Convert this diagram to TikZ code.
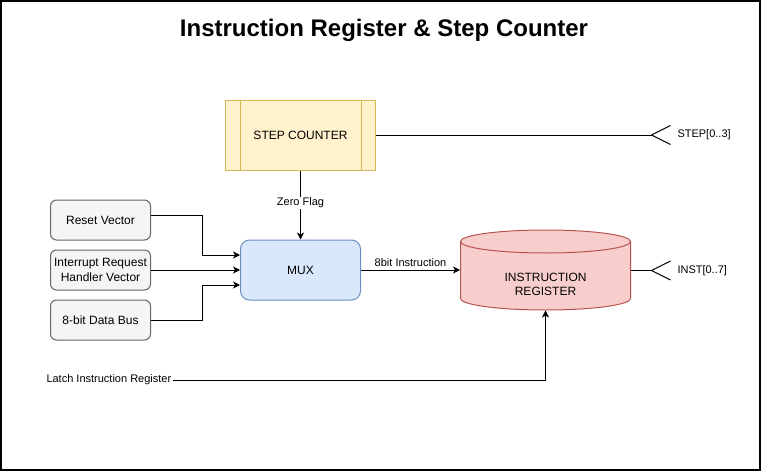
\documentclass[tikz,border=0pt]{standalone}
\usepackage{fontspec}
\setmainfont{Liberation Sans}
\usepackage{tikz}
\usetikzlibrary{arrows.meta}

\definecolor{scfill}{HTML}{FFF2CC}
\definecolor{scline}{HTML}{D6B656}
\definecolor{muxfill}{HTML}{DAE8FC}
\definecolor{muxline}{HTML}{6C8EBF}
\definecolor{irfill}{HTML}{F8CECC}
\definecolor{irline}{HTML}{B85450}
\definecolor{srcfill}{HTML}{F5F5F5}
\definecolor{srcline}{HTML}{666666}

\begin{document}
\begin{tikzpicture}[x=1pt,y=-1pt,line width=1pt,
  txt/.style={font=\fontsize{12}{15}\selectfont},
  small/.style={font=\fontsize{11}{13}\selectfont},
  srcbox/.style={draw=srcline,fill=srcfill,rounded corners=6pt,
    minimum width=100pt,minimum height=40pt,inner sep=0pt,align=center,txt},
  arr/.style={-{Stealth[length=7pt,width=7pt,inset=2pt]}}]
\useasboundingbox (0,0) rectangle (761,471);
\draw[line width=2pt] (1,1) rectangle (759.5,469.5);

\node[font=\bfseries\fontsize{24}{28}\selectfont] (title) at (384,30)
  {Instruction Register \& Step Counter};

% step counter
\node[draw=scline,fill=scfill,minimum width=150pt,minimum height=70pt,txt]
  (step) at (300.5,135) {STEP COUNTER};
\draw[scline] ([xshift=15pt]step.north west) -- ([xshift=15pt]step.south west)
  ([xshift=-15pt]step.north east) -- ([xshift=-15pt]step.south east);

% inputs
\node[srcbox] (reset) at (100.5,220) {Reset Vector};
\node[srcbox] (irq) at (100.5,270) {Interrupt Request\\Handler Vector};
\node[srcbox] (bus) at (100.5,320) {8-bit Data Bus};

\node[draw=muxline,fill=muxfill,rounded corners=9pt,
  minimum width=120pt,minimum height=60pt,txt] (mux) at (300.5,270) {MUX};

% instruction register
\node[minimum width=170pt,minimum height=80pt,inner sep=0pt] (ir) at (545.5,270) {};
\draw[draw=irline,fill=irfill] (460.5,241.5) -- ++(0,57)
  arc[start angle=180,end angle=360,x radius=85pt,y radius=11.5pt]
  -- ++(0,-57)
  arc[start angle=0,end angle=180,x radius=85pt,y radius=11.5pt] -- cycle;
\draw[irline] (460.5,241.5)
  arc[start angle=180,end angle=360,x radius=85pt,y radius=11.5pt];
\node[txt,align=center,font=\fontsize{12}{14}\selectfont] (irtext) at (545.5,284)
  {INSTRUCTION\\REGISTER};

% outputs
\coordinate (stepfork) at (651.5,135);
\coordinate (instfork) at (651.5,270.5);
\node[small,anchor=west,inner sep=0pt] (stepout) at (677,135) {STEP[0..3]};
\node[small,anchor=west,inner sep=0pt] (instout) at (677,270.5) {INST[0..7]};
\draw (step) -- (stepfork);
\draw (stepfork) -- ++(19,-9.5) (stepfork) -- ++(19,9.5);
\draw (ir.east |- instfork) -- (instfork);
\draw (instfork) -- ++(19,-9.5) (instfork) -- ++(19,9.5);

\draw[arr] (step) -- node[small,fill=white,inner sep=1pt,pos=0.47] {Zero Flag} (mux);
\draw[arr] ([yshift=5pt]reset.east) -- ++(51,0) |- ([yshift=15pt]mux.west);
\draw[arr] (irq) -- (mux);
\draw[arr] (bus.east) -- ++(51,0) |- ([yshift=-15pt]mux.west);
\draw[arr] (mux) -- node[small,above] {8bit Instruction} (ir);

\node[small,anchor=west,inner sep=1pt] (latch) at (45,380) {Latch Instruction Register};
\draw[arr] (latch.east) -| (ir.south);
\end{tikzpicture}
\end{document}
